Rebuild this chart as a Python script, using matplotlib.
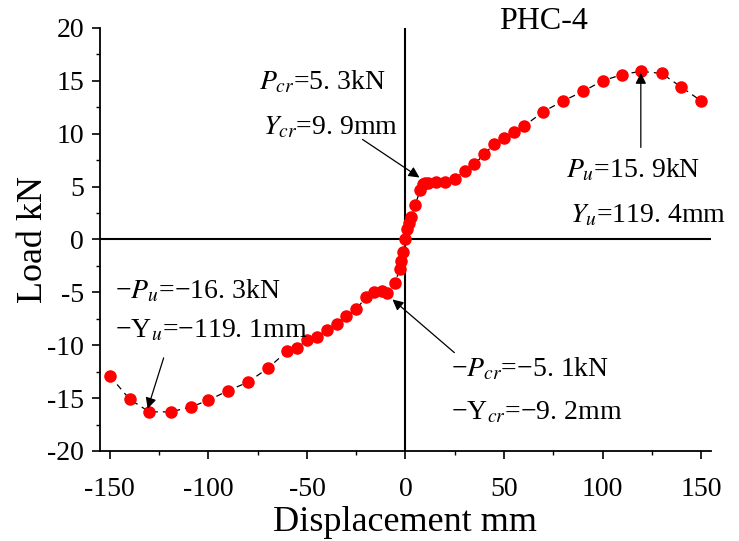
import matplotlib
matplotlib.use("Agg")
import matplotlib.pyplot as plt
from matplotlib.ticker import MultipleLocator

plt.rcParams["font.family"] = ["Liberation Serif", "DejaVu Serif"]
plt.rcParams["mathtext.fontset"] = "stix"
plt.rcParams["axes.unicode_minus"] = False

# displacement (mm) and load (kN)
disp = [-150, -140, -130, -119.1, -109, -100, -90, -80, -70, -60, -55, -50,
        -45, -40, -35, -30, -25, -20, -16, -12, -9.2, -5.3, -3, -2.2, -1.3,
        0, 0.8, 1.8, 3, 5, 7.5, 9.0, 9.9, 11.5, 15.5, 19.8, 25, 30, 35, 40,
        45, 50, 55, 60, 70, 80, 90, 100, 110, 119.4, 130, 140, 150]
load = [-12.9, -15.1, -16.3, -16.3, -15.85, -15.2, -14.3, -13.5, -12.2,
        -10.56, -10.3, -9.46, -9.2, -8.57, -7.98, -7.25, -6.6, -5.45, -4.95,
        -4.9, -5.1, -4.1, -2.8, -2.0, -1.2, 0, 1.0, 1.6, 2.1, 3.3, 4.7, 5.2,
        5.3, 5.35, 5.45, 5.45, 5.7, 6.5, 7.1, 8.1, 9.0, 9.6, 10.2, 10.7,
        12.1, 13.1, 14.0, 15.0, 15.6, 15.9, 15.7, 14.4, 13.1]

# annotation texts, their anchor (x, y) and arrow start -> tip
notes = [r"$P_{cr}$=5. 3kN", r"$Y_{cr}$=9. 9mm",
         r"$P_u$=15. 9kN", r"$Y_u$=119. 4mm",
         "\u2212" + r"$P_u$=" + "\u221216. 3kN", "\u2212Y" + r"$_u$=" + "\u2212119. 1mm",
         "\u2212" + r"$P_{cr}$=" + "\u22125. 1kN", "\u2212Y" + r"$_{cr}$=" + "\u22129. 2mm"]
note_x = [-74.5, -72.5, 81.6, 83.6, -147.5, -147.5, 23.3, 23.3]
note_y = [14.2, 9.93, 5.86, 1.6, -5.6, -9.27, -12.95, -17.0]
arrow_from = [(-21.8, 9.46), (119.4, 8.7), (-122.7, -11.2), (24.8, -10.7)]
arrow_to = [(7.1, 5.86), (119.4, 15.75), (-130.8, -16.0), (-6.6, -5.67)]

fig = plt.figure(figsize=(7.39, 5.41), dpi=100)
ax = fig.add_axes([0.1353, 0.1664, 0.8268, 0.7819])

ax.axhline(0, color="black", lw=1.5, zorder=1)
ax.axvline(0, color="black", lw=1.5, zorder=1)
ax.plot(disp, load, color="black", ls=(0, (5, 4)), lw=0.9,
        marker="o", ms=8, mfc="red", mec="red", zorder=3)

for t, x, y in zip(notes, note_x, note_y):
    ax.text(x, y, t, fontsize=20, ha="left", va="baseline", zorder=4)

for s, e in zip(arrow_from, arrow_to):
    ax.annotate("", xy=e, xytext=s,
                arrowprops=dict(arrowstyle="-|>", color="black", lw=0.9,
                                mutation_scale=16, shrinkA=0, shrinkB=0),
                zorder=4)

ax.text(70, 20.6, "PHC-4", fontsize=23, ha="center", va="center", clip_on=False)

ax.set_xlim(-155, 155)
ax.set_ylim(-20, 20)
ax.xaxis.set_major_locator(MultipleLocator(50))
ax.xaxis.set_minor_locator(MultipleLocator(25))
ax.yaxis.set_major_locator(MultipleLocator(5))
ax.yaxis.set_minor_locator(MultipleLocator(2.5))
ax.tick_params(which="major", direction="out", length=5.5, width=1.2, labelsize=20)
ax.tick_params(axis="x", which="major", pad=13)
ax.tick_params(axis="y", which="major", pad=6)
ax.tick_params(which="minor", direction="out", length=3, width=1.0)
ax.spines["top"].set_visible(False)
ax.spines["right"].set_visible(False)
ax.spines["left"].set_linewidth(1.3)
ax.spines["bottom"].set_linewidth(1.3)

ax.set_xlabel("Displacement mm", fontsize=26, labelpad=3)
ax.set_ylabel("Load kN", fontsize=26, labelpad=-2)

fig.savefig("out.png", dpi=100)
